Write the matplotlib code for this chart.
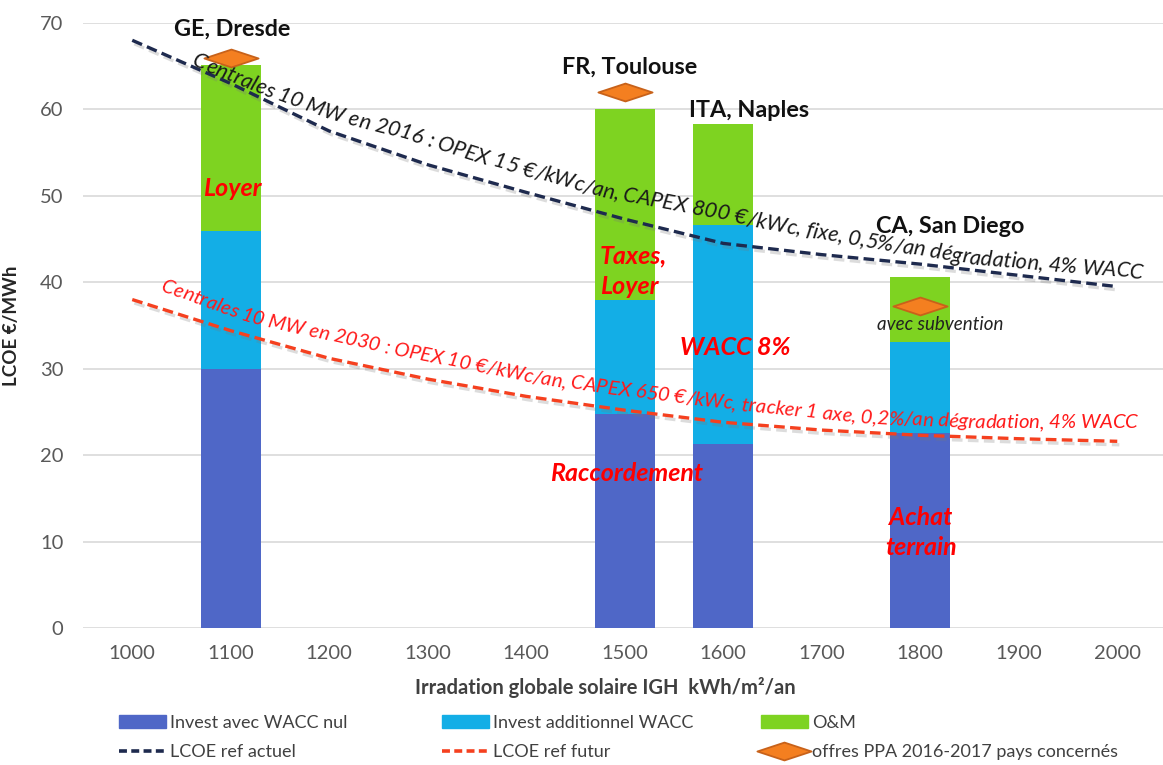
import numpy as np
import matplotlib
matplotlib.use("Agg")
import matplotlib.pyplot as plt
import matplotlib.patheffects as pe
from matplotlib.font_manager import FontProperties
from matplotlib.path import Path
from matplotlib.lines import Line2D
from matplotlib.patches import Patch

plt.rcParams['font.family'] = ['Lato', 'DejaVu Sans']

# ---- data -----------------------------------------------------------------
sites = ['GE, Dresde', 'FR, Toulouse', 'ITA, Naples', 'CA, San Diego']
site_irr = [1100, 1500, 1600, 1800]
invest_wacc_nul = [30.0, 24.8, 21.3, 22.6]
invest_wacc_add = [15.9, 13.2, 25.3, 10.5]
om_cost = [19.2, 22.1, 11.7, 7.5]

ppa_irr = [1100, 1500, 1800]
ppa_price = [66.0, 62.0, 37.3]

ref_irr = [1000, 1100, 1200, 1300, 1400, 1500, 1600, 1700, 1800, 1900, 2000]
lcoe_actuel = [68.0, 63.0, 57.5, 53.6, 50.4, 47.3, 44.5, 43.2, 42.1, 40.8, 39.5]
lcoe_futur = [38.0, 34.4, 31.2, 28.8, 26.8, 25.2, 23.8, 22.9, 22.3, 21.9, 21.6]

x_ticks = list(range(1000, 2001, 100))
y_ticks = list(range(0, 71, 10))

txt_actuel = ("Centrales 10 MW en 2016 : OPEX 15 €/kWc/an, CAPEX 800 €/kWc, "
              "fixe, 0,5%/an dégradation, 4% WACC")
txt_futur = ("Centrales 10 MW en 2030 : OPEX 10 €/kWc/an, CAPEX 650 €/kWc, "
             "tracker 1 axe, 0,2%/an dégradation, 4% WACC")
# baselines of the two descriptive captions (irradiation, LCOE)
cap_actuel_x = [1060, 1132, 1198, 1272, 1353, 1475, 1579, 1634, 1688, 1744, 1853, 2026]
cap_actuel_y = [65.1, 61.7, 58.9, 56.7, 53.8, 49.9, 47.7, 46.4, 45.2, 44.1, 42.1, 40.4]
cap_futur_x = [1028, 1119, 1261, 1414, 1490, 1576, 1637, 1698, 1754, 1871, 2021]
cap_futur_y = [39.0, 35.3, 31.7, 28.2, 27.0, 25.7, 24.9, 24.2, 23.6, 23.1, 23.1]

# ---- style ----------------------------------------------------------------
C_DARK = '#4F67C7'
C_LIGHT = '#13AEE6'
C_GREEN = '#7ED321'
C_NAVY = '#1E2A4E'
C_RED = '#F5401F'
C_DIAM = '#F47F20'
C_DIAM_EDGE = '#C8621A'
LABEL_RED = '#FF0000'

diamond = Path([(-1, 0), (0, 0.33), (1, 0), (0, -0.33), (-1, 0)],
               [Path.MOVETO, Path.LINETO, Path.LINETO, Path.LINETO, Path.CLOSEPOLY])

W, H = 1163, 765
fig = plt.figure(figsize=(W / 100, H / 100), dpi=100)
ax = fig.add_axes([83 / W, 1 - 628 / H, 1083.5 / W, 605 / H])

# stacked bars
bar_w = 61
ax.bar(site_irr, invest_wacc_nul, width=bar_w, color=C_DARK, zorder=2)
b2 = np.array(invest_wacc_nul)
ax.bar(site_irr, invest_wacc_add, width=bar_w, bottom=b2, color=C_LIGHT, zorder=2)
b3 = b2 + np.array(invest_wacc_add)
ax.bar(site_irr, om_cost, width=bar_w, bottom=b3, color=C_GREEN, zorder=2)

# reference LCOE curves
shadow = [pe.SimpleLineShadow(offset=(1.5, -2.5), shadow_color='#777777', alpha=0.25), pe.Normal()]
ax.plot(ref_irr, lcoe_actuel, color=C_NAVY, lw=2.4, ls=(0, (3.2, 1.6)), zorder=4,
        path_effects=shadow)
ax.plot(ref_irr, lcoe_futur, color=C_RED, lw=2.4, ls=(0, (3.2, 1.6)), zorder=4,
        path_effects=shadow)

# PPA offers
ax.plot(ppa_irr, ppa_price, ls='none', marker=diamond, ms=39, mfc=C_DIAM,
        mec=C_DIAM_EDGE, mew=1.3, zorder=5, clip_on=False)

# axes
ax.set_xlim(950, 2050)
ax.set_ylim(0, 70)
ax.set_xticks(x_ticks)
ax.set_yticks(y_ticks)
ax.tick_params(length=0, labelsize=14.5, labelcolor='#595959')
ax.tick_params(axis='x', pad=12)
ax.tick_params(axis='y', pad=14)
ax.yaxis.grid(True, color='#D9D9D9', lw=1.2, zorder=0)
ax.set_axisbelow(True)
for s in ax.spines.values():
    s.set_visible(False)

ax.set_ylabel('LCOE €/MWh', fontsize=13.5, fontweight='bold', color='#262626')
ax.yaxis.set_label_coords(-0.058, 0.5)
ax.set_xlabel('Irradation globale solaire IGH  kWh/m²/an', fontsize=14.5,
              fontweight='bold', color='#404040')
ax.xaxis.set_label_coords(0.482, -0.099)
ax.xaxis.label.set_va('center')

# site names
site_lbl_pos = [(1101, 69.3), (1505, 64.9), (1626, 59.85), (1830, 46.5)]
for name, (x, y) in zip(sites, site_lbl_pos):
    ax.text(x, y, name, ha='center', va='center', fontsize=16.8, fontweight='bold',
            color='#111111', zorder=6, clip_on=False)

# cost driver notes
note_kw = dict(color=LABEL_RED, fontsize=18, fontweight='bold', fontstyle='italic',
               zorder=6, va='center')
ax.text(1101.5, 50.9, 'Loyer', ha='center', **note_kw)
ax.text(1474.6, 41.3, 'Taxes,\nLoyer', ha='left', multialignment='left',
        linespacing=1.38, **note_kw)
ax.text(1611.7, 32.5, 'WACC 8%', ha='center', **note_kw)
ax.text(1502, 17.9, 'Raccordement', ha='center', **note_kw)
ax.text(1800.5, 11.05, 'Achat\nterrain', ha='center', multialignment='center',
        linespacing=1.38, **note_kw)
ax.text(1820.8, 35.1, 'avec subvention', ha='center', va='center', fontsize=13.5,
        fontstyle='italic', color='#222222', zorder=6)


def text_along(ax, s, xs, ys, color):
    """Lay a string character by character along a polyline given in data units."""
    r = ax.figure.canvas.get_renderer()
    pts = ax.transData.transform(np.column_stack([xs, ys]))
    cum = np.r_[0, np.cumsum(np.hypot(*np.diff(pts, axis=0).T))]
    length = cum[-1]
    prop = FontProperties(family=['Lato', 'DejaVu Sans'], style='italic', size=10)

    def advances(size):
        prop.set_size(size)
        ref = r.get_text_width_height_descent('H', prop, ismath=False)[0]
        return np.array([r.get_text_width_height_descent(s[:i] + 'H', prop, ismath=False)[0] - ref
                         for i in range(len(s) + 1)])

    a = advances(10)
    size = 10 * length / a[-1]
    a = advances(size)
    a = a * length / a[-1]
    inv = ax.transData.inverted()

    def at(d):
        return np.interp(d, cum, pts[:, 0]), np.interp(d, cum, pts[:, 1])

    for i, ch in enumerate(s):
        if ch == ' ':
            continue
        mid = 0.5 * (a[i] + a[i + 1])
        x0, y0 = at(mid - 14)
        x1, y1 = at(mid + 14)
        ang = np.degrees(np.arctan2(y1 - y0, x1 - x0))
        xd, yd = inv.transform(at(mid))
        ax.text(xd, yd, ch, fontproperties=prop.copy(), color=color, rotation=ang,
                rotation_mode='anchor', ha='center', va='baseline', zorder=6, clip_on=False)


text_along(ax, txt_actuel, cap_actuel_x, cap_actuel_y, '#1A1A1A')
text_along(ax, txt_futur, cap_futur_x, cap_futur_y, '#FF1A1A')

# legend, three columns
leg_font = {'family': ['Liberation Sans Narrow', 'Lato'], 'size': 13}
h_dark = Patch(color=C_DARK)
h_light = Patch(color=C_LIGHT)
h_green = Patch(color=C_GREEN)
h_navy = Line2D([], [], color=C_NAVY, lw=2.6, ls=(0, (2.2, 1.2)))
h_red = Line2D([], [], color=C_RED, lw=2.6, ls=(0, (2.2, 1.2)))
h_diam = Line2D([], [], ls='none', marker=diamond, ms=39, mfc=C_DIAM, mec=C_DIAM_EDGE, mew=1.3)
columns = [([h_dark, h_navy], ['Invest avec WACC nul', 'LCOE ref actuel'], 119),
           ([h_light, h_red], ['Invest additionnel WACC', 'LCOE ref futur'], 442),
           ([h_green, h_diam], ['O&M', 'offres PPA 2016-2017 pays concernés'], 761)]
for handles, labels, x0 in columns:
    fig.legend(handles, labels, loc='center left', bbox_to_anchor=(x0 / W, 1 - 737.5 / H),
               frameon=False, prop=leg_font, handlelength=2.6, handleheight=0.8,
               handletextpad=0.25, labelspacing=0.75, borderpad=0, borderaxespad=0,
               labelcolor='#404040')

fig.savefig('out.png', dpi=100)
